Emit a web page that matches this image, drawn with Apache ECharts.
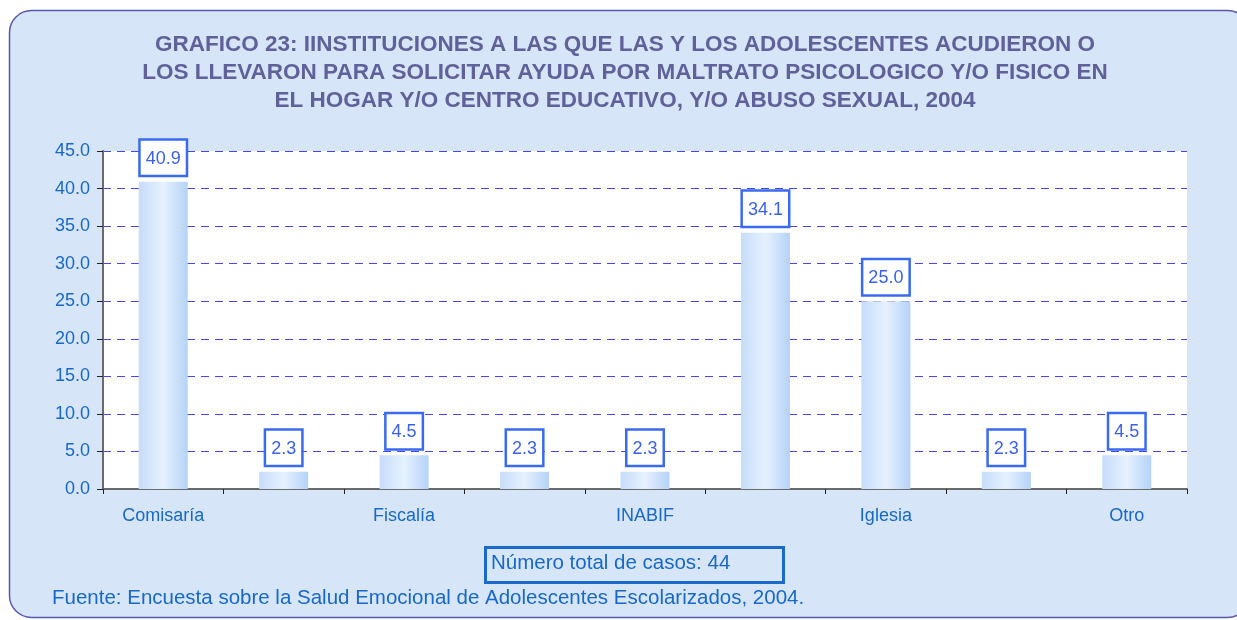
<!DOCTYPE html>
<html lang="es">
<head>
    <meta charset="UTF-8">
    <title>index</title>
    <script src="https://cdn.jsdelivr.net/npm/echarts@6/dist/echarts.min.js"></script>
    <style>
        html, body { margin: 0; padding: 0; background: #ffffff; }
        #main { width: 1237px; height: 620px; }
    </style>
</head>
<body>
<div id="main"></div>

<script type="text/javascript">
    // categorias (las de posicion par no tienen etiqueta visible en el grafico)
    var categorias = ['Comisaría', ' ', 'Fiscalía', '  ', 'INABIF', '   ', 'Iglesia', '    ', 'Otro'];
    var porcentajes = [40.9, 2.3, 4.5, 2.3, 2.3, 34.1, 25.0, 2.3, 4.5];
    var ticksY = [0, 5, 10, 15, 20, 25, 30, 35, 40, 45];
    var totalCasos = 44;

    var azul = '#1868c8';
    var myChart = echarts.init(document.getElementById('main'));

    var option = {
        backgroundColor: '#ffffff',
        animation: false,
        title: {
            text: 'GRAFICO 23: IINSTITUCIONES A LAS QUE LAS Y LOS ADOLESCENTES ACUDIERON O\nLOS LLEVARON PARA SOLICITAR AYUDA POR MALTRATO PSICOLOGICO Y/O FISICO EN\nEL HOGAR Y/O CENTRO EDUCATIVO, Y/O ABUSO SEXUAL, 2004',
            left: 620,
            top: 26,
            textAlign: 'center',
            textStyle: {
                fontFamily: 'Liberation Sans, Arial',
                fontSize: 22.5,
                fontWeight: 'bold',
                color: '#60609a',
                lineHeight: 28
            }
        },
        graphic: [
            {
                type: 'rect', z: -10, silent: true,
                shape: { x: 9.5, y: 10.5, width: 1240, height: 607, r: 22 },
                style: { fill: '#d6e6f8', stroke: '#5a58a8', lineWidth: 1.5 }
            },
            {
                type: 'rect', z: 5,
                shape: { x: 485.5, y: 547.5, width: 298, height: 35 },
                style: { fill: 'rgba(0,0,0,0)', stroke: '#1a6acc', lineWidth: 3 }
            },
            {
                type: 'text', z: 6,
                left: 491, top: 553,
                style: {
                    text: 'Número total de casos: ' + totalCasos,
                    font: '20.5px Liberation Sans, Arial',
                    fill: azul
                }
            },
            {
                type: 'text', z: 6,
                left: 52, top: 588,
                style: {
                    text: 'Fuente: Encuesta sobre la Salud Emocional de Adolescentes Escolarizados, 2004.',
                    font: '20.5px Liberation Sans, Arial',
                    fill: azul
                }
            }
        ],
        grid: {
            left: 103, right: 50, top: 151, bottom: 131,
            show: true, backgroundColor: '#ffffff', borderWidth: 0
        },
        xAxis: {
            type: 'category',
            data: categorias,
            axisLine: { lineStyle: { color: '#6a6a6a', width: 2 } },
            axisTick: { show: true, length: 5, inside: false, alignWithLabel: false, lineStyle: { color: '#222' } },
            axisLabel: {
                interval: 0, margin: 18,
                fontFamily: 'Liberation Sans, Arial', fontSize: 18, color: azul
            }
        },
        yAxis: {
            type: 'value',
            min: ticksY[0], max: ticksY[ticksY.length - 1], interval: 5,
            axisLine: { show: true, lineStyle: { color: '#6a6a6a', width: 2 } },
            axisTick: { show: true, length: 6, lineStyle: { color: '#222' } },
            axisLabel: {
                margin: 13,
                formatter: function (v) { return v.toFixed(1); },
                fontFamily: 'Liberation Sans, Arial', fontSize: 18, color: azul
            },
            splitLine: { show: true, lineStyle: { color: '#4646f0', type: [8, 6], width: 1 } }
        },
        series: [{
            type: 'bar',
            data: porcentajes,
            barWidth: 49,
            itemStyle: {
                color: new echarts.graphic.LinearGradient(0, 0, 1, 0, [
                    { offset: 0, color: '#c6dcfa' },
                    { offset: 0.5, color: '#e6f1fe' },
                    { offset: 1, color: '#b4d2f8' }
                ])
            },
            label: {
                show: true,
                position: 'top',
                distance: 7,
                formatter: function (p) { return p.value.toFixed(1); },
                fontFamily: 'Liberation Sans, Arial', fontSize: 18, color: '#3a62e8',
                backgroundColor: '#ffffff',
                borderColor: '#3a6af0', borderWidth: 2.5,
                padding: [9, 5, 7, 5]
            }
        }]
    };

    myChart.setOption(option);
</script>
</body>
</html>
